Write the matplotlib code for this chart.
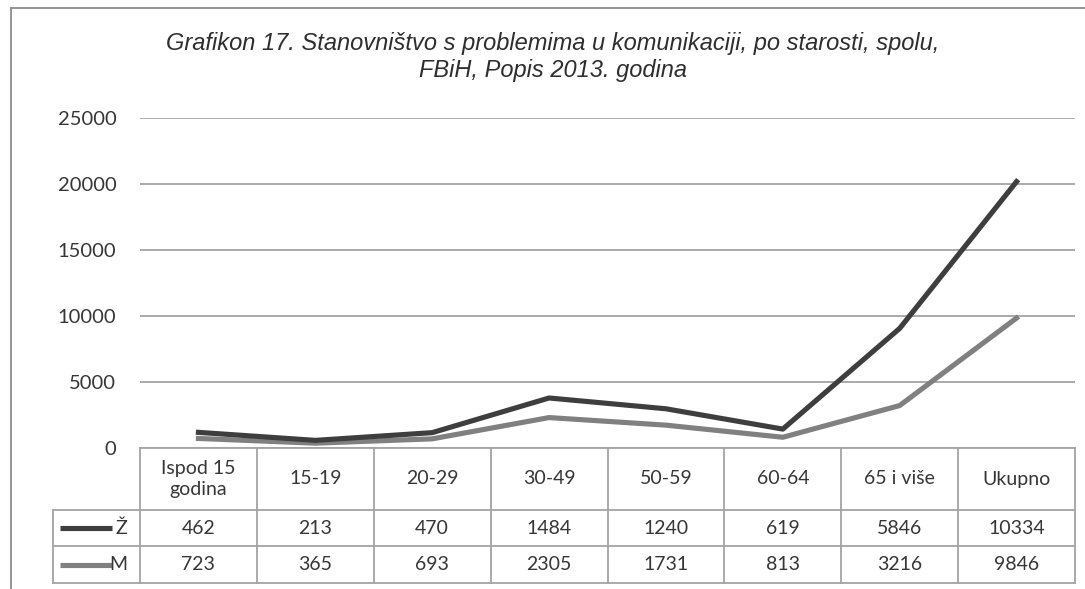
import numpy as np
import matplotlib.pyplot as plt
from matplotlib.lines import Line2D

categories = ['Ispod 15\ngodina', '15-19', '20-29', '30-49', '50-59', '60-64', '65 i više', 'Ukupno']
zene = [462, 213, 470, 1484, 1240, 619, 5846, 10334]
muskarci = [723, 365, 693, 2305, 1731, 813, 3216, 9846]
series_names = ['Ž', 'M']
title = ('Grafikon 17. Stanovništvo s problemima u komunikaciji, po starosti, spolu,\n'
         'FBiH, Popis 2013. godina')

plt.rcParams['font.family'] = ['Lato', 'DejaVu Sans']

W, H = 1085, 589
fig = plt.figure(figsize=(W / 100, H / 100), dpi=100)
fig.patch.set_facecolor('white')

dark = '#3e3e3e'
light = '#808080'
grid_col = '#a4a4a4'
txt_col = '#363636'

x = np.arange(len(categories))
m = np.array(muskarci)
z = np.array(zene)

# chart area (stacked lines: M at the bottom, Z on top of it)
ax = fig.add_axes([140 / W, 1 - 448 / H, 935 / W, 330 / H])
ax.plot(x, m, color=light, lw=3.7)
ax.plot(x, m + z, color=dark, lw=3.7)
ax.set_xlim(-0.5, 7.5)
ax.set_ylim(0, 25000)
ax.set_yticks(range(0, 25001, 5000))
ax.set_xticks([])
ax.grid(axis='y', color=grid_col, lw=1.3)
ax.set_axisbelow(True)
for s in ax.spines.values():
    s.set_visible(False)
ax.tick_params(axis='y', length=0, pad=17, labelsize=14.5, labelcolor=txt_col)
ax.patch.set_alpha(0)

# data table under the chart
colw = 935 / 8
xl = -0.5 - 87 / colw
tax = fig.add_axes([53 / W, 1 - 583 / H, 1022 / W, 135 / H])
tax.set_xlim(xl, 7.5)
tax.set_ylim(583, 448)
tax.axis('off')

rows = [448, 510, 546, 583]
lkw = dict(color=grid_col, lw=1.3, clip_on=False)
tax.plot([-0.5, 7.5], [rows[0], rows[0]], **lkw)
for r in rows[1:]:
    tax.plot([xl, 7.5], [r, r], **lkw)
for i in range(len(categories) + 1):
    tax.plot([i - 0.5, i - 0.5], [rows[0], rows[-1]], **lkw)
tax.plot([xl, xl], [rows[1], rows[-1]], **lkw)

for i, c in enumerate(categories):
    tax.text(i, (rows[0] + rows[1]) / 2, c, ha='center', va='center',
             fontsize=14, color=txt_col, linespacing=1.35)

for vals, col, name, k in [(z, dark, series_names[0], 1), (m, light, series_names[1], 2)]:
    yc = (rows[k] + rows[k + 1]) / 2
    for i, v in enumerate(vals):
        tax.text(i, yc, str(v), ha='center', va='center', fontsize=14, color=txt_col)
    kx0 = (60 - 140) / colw - 0.5
    kx1 = (112 - 140) / colw - 0.5
    tax.plot([kx0, kx1], [yc, yc], color=col, lw=3.7, clip_on=False, solid_capstyle='butt')
    tax.text((127 - 140) / colw - 0.5, yc, name, ha='right', va='center',
             fontsize=14, color=txt_col)

# outer frame (left and top edges of the scanned chart box)
fig.add_artist(Line2D([11 / W, 11 / W], [0, 1 - 8 / H], transform=fig.transFigure,
                      color='#8c8c8c', lw=1.3))
fig.add_artist(Line2D([11 / W, 1], [1 - 8 / H, 1 - 8 / H], transform=fig.transFigure,
                      color='#8c8c8c', lw=1.3))

fig.text(553 / W, 1 - 57 / H, title, ha='center', va='center', style='italic',
         family=['Liberation Sans', 'DejaVu Sans'], fontsize=17, color='#2e2e2e',
         linespacing=1.25)

fig.savefig('out.png', dpi=100, facecolor='white')
